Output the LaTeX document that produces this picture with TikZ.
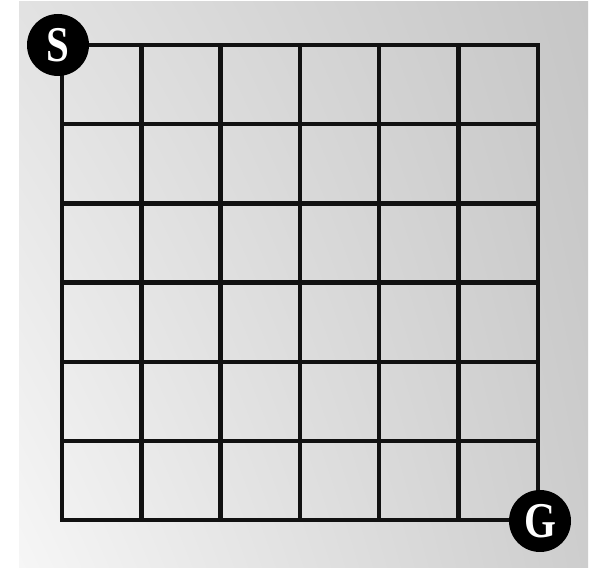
\documentclass[tikz,border=0pt]{standalone}
\usepackage{fontspec}
\usetikzlibrary{shadings}
\newfontfamily\lettfont{Liberation Serif Bold}
\definecolor{bgUL}{HTML}{E2E2E2}
\definecolor{bgLL}{HTML}{F6F6F6}
\definecolor{bgUR}{HTML}{C6C6C6}
\definecolor{bgLR}{HTML}{CDCDCD}
\definecolor{gridc}{HTML}{111111}
\tikzset{
  gridline/.style={draw=gridc, line width=4.5pt, line cap=rect},
  marker/.style={circle, fill=black, minimum size=62pt, inner sep=0pt, text=white,
    font=\lettfont\fontsize{50}{50}\selectfont}
}
\begin{document}
\begin{tikzpicture}[x=1pt,y=-1pt]
\useasboundingbox (0,0) rectangle (598,569);
\fill[white] (0,0) rectangle (598,569);
\shade[upper left=bgUL, upper right=bgUR, lower left=bgLL, lower right=bgLR] (19,2) rectangle (588,568);
\foreach \i in {0,...,6} {
  \pgfmathsetmacro{\p}{62+\i*79.3}
  \pgfmathsetmacro{\q}{45+\i*79.2}
  \draw[gridline] (\p,45) -- (\p,520);
  \draw[gridline] (62,\q) -- (538,\q);
}
\node[marker] (S) at (58,45) {\scalebox{0.82}[1]{S}};
\node[marker] (G) at (540,521) {\scalebox{0.82}[1]{G}};
\end{tikzpicture}
\end{document}
